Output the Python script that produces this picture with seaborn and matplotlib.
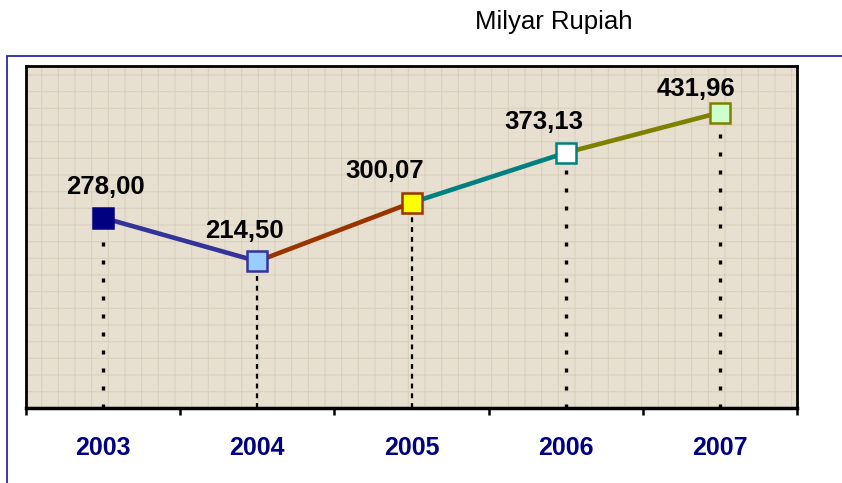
import matplotlib
matplotlib.use("Agg")
import matplotlib.pyplot as plt
import seaborn as sns
import pandas as pd
from matplotlib.patches import Rectangle


YEARS = ["2003", "2004", "2005", "2006", "2007"]
VALUES = [278.00, 214.50, 300.07, 373.13, 431.96]
LABELS = ["278,00", "214,50", "300,07", "373,13", "431,96"]

SEGMENT_COLORS = ["#333399", "#993300", "#008080", "#808000"]
MARKER_FILLS = ["#000080", "#99CCFF", "#FFFF00", "#FFFFFF", "#CCFFCC"]
MARKER_EDGES = ["#000080", "#333399", "#993300", "#008080", "#808000"]
LABEL_OFFSETS = [(2, 22), (-9, 22), (-19, 23), (-16, 22), (-17, 17)]

BG_COLOR = "#E7DFCF"
YEAR_COLOR = "#000080"


def save_plot(filename: str) -> None:

    plt.savefig(filename, dpi=100)
    plt.close()


if __name__ == "__main__":
    sns.set_style("white")
    plt.rcParams["font.family"] = ["Liberation Sans", "DejaVu Sans"]
    plt.rcParams["hatch.linewidth"] = 0.7

    df = pd.DataFrame({"x": range(len(YEARS)), "value": VALUES})

    fig = plt.figure(figsize=(8.42, 4.83), dpi=100)
    ax = fig.add_axes([0.0309, 0.1553, 0.9157, 0.7081])

    # outer frame
    fig.patches.append(Rectangle(
        (7 / 842, -0.05), 1.2, (483 - 56) / 483 + 0.05,
        transform=fig.transFigure, fill=False,
        edgecolor="#2A2AA8", linewidth=1.3, zorder=0
    ))

    ax.set_facecolor(BG_COLOR)
    ax.patch.set_edgecolor("#D8CEBB")
    ax.patch.set_hatch("+")

    # dotted drop lines
    for i, v in enumerate(VALUES):
        if i in (1, 2):
            ax.vlines(i, 0, v, colors="black", linewidth=1.6,
                      linestyles=(0, (2.2, 2.2)), zorder=2)
        else:
            ax.vlines(i, 0, v, colors="black", linewidth=2.4,
                      linestyles=(0, (1.2, 4.2)), zorder=2)

    # coloured segments
    for i in range(len(VALUES) - 1):
        seg = df.iloc[i:i + 2]
        sns.lineplot(data=seg, x="x", y="value", ax=ax,
                     color=SEGMENT_COLORS[i], linewidth=3.3, zorder=3)

    # square markers
    for i, v in enumerate(VALUES):
        ax.plot(i, v, marker="s", markersize=14.5,
                markerfacecolor=MARKER_FILLS[i],
                markeredgecolor=MARKER_EDGES[i],
                markeredgewidth=1.8, zorder=4)
        ax.annotate(LABELS[i], (i, v), xytext=LABEL_OFFSETS[i],
                    textcoords="offset points", ha="center", va="center",
                    fontsize=18.5, fontweight="bold", color="black", zorder=5)

    ax.set_xlim(-0.5, len(YEARS) - 0.5)
    ax.set_ylim(0, 500)
    ax.set_yticks([])

    ax.set_xticks([i - 0.5 for i in range(len(YEARS) + 1)])
    ax.set_xticklabels([])
    ax.set_xticks(range(len(YEARS)), minor=True)
    ax.set_xticklabels(YEARS, minor=True,
                       fontsize=18, fontweight="bold", color=YEAR_COLOR)
    ax.tick_params(axis="x", which="major", direction="out", length=5,
                   width=1.8, color="black", bottom=True)
    ax.tick_params(axis="x", which="minor", length=0, pad=20, bottom=True)
    ax.set_xlabel("")
    ax.set_ylabel("")

    for side in ["left", "top", "right"]:
        ax.spines[side].set_color("black")
        ax.spines[side].set_linewidth(2)
    ax.spines["bottom"].set_color("black")
    ax.spines["bottom"].set_linewidth(2.5)

    fig.text(554 / 842, 1 - 22 / 483, "Milyar Rupiah", ha="center",
             va="center", fontsize=18.5, color="black")

    save_plot("out.png")
